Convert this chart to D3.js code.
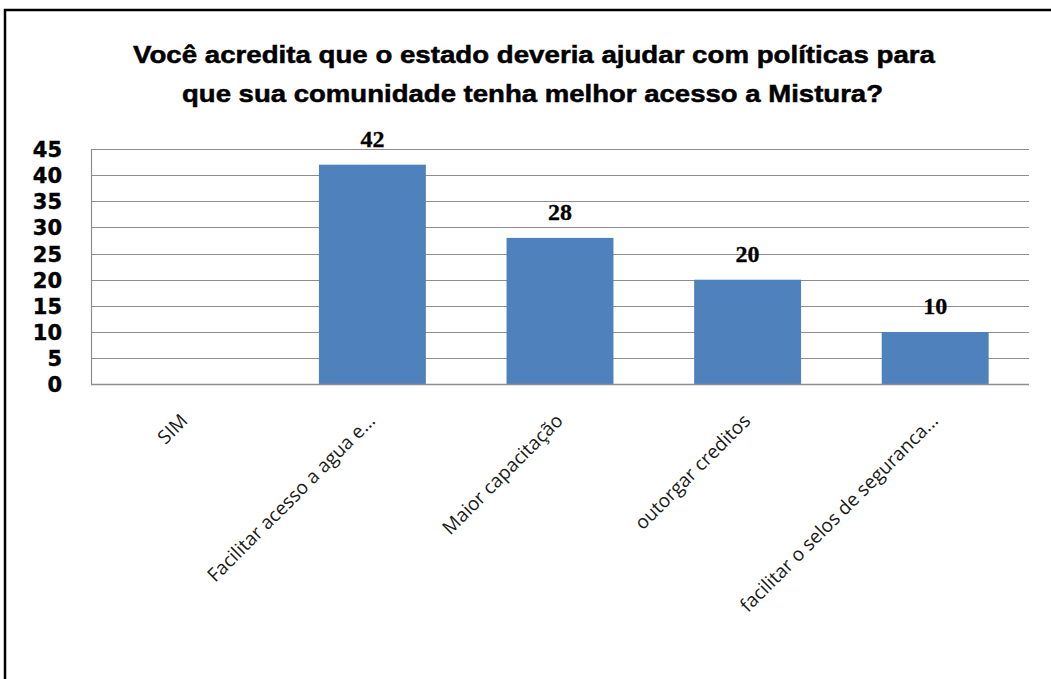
<!DOCTYPE html>
<html>
<head>
<meta charset="utf-8">
<script src="https://cdn.jsdelivr.net/npm/d3@7"></script>
<style>
  html, body { margin: 0; padding: 0; background: #fff; }
  svg { display: block; }
</style>
</head>
<body>
<svg id="chart" width="1051" height="679"></svg>
<script>
// Survey answers and counts
const categories = [
  "SIM",
  "Facilitar acesso a agua e...",
  "Maior capacitação",
  "outorgar creditos",
  "facilitar o selos de seguranca..."
];
const values = [0, 42, 28, 20, 10];
const valueLabels = [null, "42", "28", "20", "10"];
const yTicks = [0, 5, 10, 15, 20, 25, 30, 35, 40, 45];
const titleLines = [
  "Você acredita que o estado deveria ajudar com políticas para",
  "que sua comunidade  tenha melhor acesso a Mistura?"
];

const svg = d3.select("#chart");

// Outer chart frame (top and left edges visible)
svg.append("rect")
  .attr("x", 5).attr("y", 10)
  .attr("width", 1100).attr("height", 720)
  .attr("fill", "#fff")
  .attr("stroke", "#000")
  .attr("stroke-width", 2.5);

const plot = { left: 91, right: 1029, top: 149, bottom: 384.3 };

const x = d3.scaleBand()
  .domain(categories)
  .range([plot.left, plot.right])
  .paddingInner(0.43)
  .paddingOuter(0.215);

const y = d3.scaleLinear()
  .domain([0, 45])
  .range([plot.bottom, plot.top]);

// Horizontal gridlines
svg.append("g")
  .selectAll("line")
  .data(yTicks)
  .join("line")
  .attr("x1", plot.left).attr("x2", plot.right)
  .attr("y1", d => Math.round(y(d)) + 0.5)
  .attr("y2", d => Math.round(y(d)) + 0.5)
  .attr("stroke", "#8e8e8e")
  .attr("stroke-width", 1.2);

// Value axis line
svg.append("line")
  .attr("x1", plot.left + 0.5).attr("x2", plot.left + 0.5)
  .attr("y1", y(45)).attr("y2", y(0))
  .attr("stroke", "#8e8e8e")
  .attr("stroke-width", 1.2);

// Y axis tick labels
const yAxis = d3.axisLeft(y)
  .tickValues(yTicks)
  .tickSize(0)
  .tickPadding(0);
const gy = svg.append("g")
  .attr("transform", "translate(62,0)")
  .call(yAxis);
gy.select(".domain").remove();
gy.selectAll("text")
  .attr("font-family", "DejaVu Sans, sans-serif")
  .attr("font-weight", "bold")
  .attr("font-size", 21)
  .attr("fill", "#000")
  .attr("stroke", "#000")
  .attr("stroke-width", 0.4)
  .attr("dy", "0.36em");

// Bars
svg.append("g")
  .selectAll("rect")
  .data(categories.map((c, i) => ({ c, v: values[i] })))
  .join("rect")
  .attr("x", d => x(d.c))
  .attr("width", x.bandwidth())
  .attr("y", d => y(d.v))
  .attr("height", d => y(0) - y(d.v))
  .attr("fill", "#4f81bd");

// Bottom axis line drawn over bars
svg.append("line")
  .attr("x1", plot.left).attr("x2", plot.right)
  .attr("y1", Math.round(y(0)) + 0.5).attr("y2", Math.round(y(0)) + 0.5)
  .attr("stroke", "#8e8e8e")
  .attr("stroke-width", 1.4);

// Value labels above bars
svg.append("g")
  .selectAll("text")
  .data(categories.map((c, i) => ({ c, v: values[i], t: valueLabels[i] })).filter(d => d.t))
  .join("text")
  .attr("x", d => x(d.c) + x.bandwidth() / 2)
  .attr("y", d => y(d.v) - 18)
  .attr("text-anchor", "middle")
  .attr("font-family", "Liberation Serif, serif")
  .attr("font-weight", "bold")
  .attr("font-size", 24)
  .attr("fill", "#000")
  .attr("stroke", "#000")
  .attr("stroke-width", 0.3)
  .text(d => d.t);

// Rotated category labels
svg.append("g")
  .selectAll("text")
  .data(categories)
  .join("text")
  .attr("transform", d => `translate(${x(d) + x.bandwidth() / 2 + 4},422) rotate(-45)`)
  .attr("text-anchor", "end")
  .attr("font-family", "Open Sans, sans-serif")
  .attr("font-size", 19)
  .attr("fill", "#1a1a1a")
  .text(d => d);

// Title
const titleLayout = [
  { cx: 534, y: 63, w: 802 },
  { cx: 532.5, y: 102, w: 701 }
];
svg.append("g")
  .selectAll("text")
  .data(titleLines)
  .join("text")
  .attr("x", (d, i) => titleLayout[i].cx)
  .attr("y", (d, i) => titleLayout[i].y)
  .attr("text-anchor", "middle")
  .attr("font-family", "Liberation Sans Narrow, Liberation Sans, sans-serif")
  .attr("font-weight", "bold")
  .attr("font-size", 24)
  .attr("textLength", (d, i) => titleLayout[i].w)
  .attr("lengthAdjust", "spacingAndGlyphs")
  .attr("fill", "#000")
  .attr("stroke", "#000")
  .attr("stroke-width", 0.5)
  .text(d => d);
</script>
</body>
</html>
